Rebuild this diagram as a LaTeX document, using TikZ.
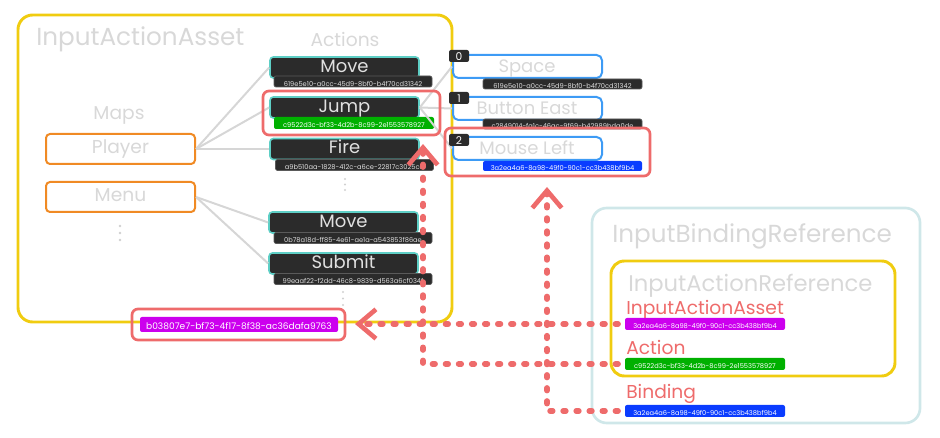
\documentclass[tikz,border=0pt]{standalone}
\usepackage{fontspec}
\setmainfont{Poppins}
\usetikzlibrary{arrows.meta}
\definecolor{lgray}{HTML}{D8D8D8}
\definecolor{linegray}{HTML}{D6D6D6}
\definecolor{dotgray}{HTML}{D0D0D0}
\definecolor{yel}{HTML}{F0CC10}
\definecolor{orange1}{HTML}{F08A24}
\definecolor{red1}{HTML}{EE6B6B}
\definecolor{dark}{HTML}{2B2B2B}
\definecolor{teal1}{HTML}{5ECFC6}
\definecolor{idtext}{HTML}{E0E0E0}
\definecolor{idborder}{HTML}{5A5A5A}
\definecolor{blue1}{HTML}{3D9BF5}
\definecolor{green1}{HTML}{00B000}
\definecolor{mag1}{HTML}{CC00EE}
\definecolor{blue2}{HTML}{0A3CFF}
\definecolor{lteal}{HTML}{CFE7E9}
\begin{document}
\begin{tikzpicture}[x=0.75pt,y=-0.75pt,
  title/.style={text=lgray, font=\fontsize{18.5}{20}\selectfont, inner sep=0, anchor=base west},
  sub/.style={text=lgray, font=\fontsize{14}{16}\selectfont, inner sep=0},
  mapbox/.style={draw=orange1, line width=1.5pt, rounded corners=3pt, fill=white, minimum width=111.75pt, minimum height=22.5pt, text=lgray, font=\fontsize{14}{16}\selectfont, inner sep=0, text height=0.72em, text depth=0pt},
  actbox/.style={draw=teal1, line width=1.2pt, fill=dark, rounded corners=2.5pt, minimum width=111.75pt, minimum height=15.75pt, inner sep=0, text=idtext, font=\fontsize{13.5}{14}\selectfont, text height=0.72em, text depth=0pt},
  idbox/.style={fill=dark, draw=idborder, line width=0.5pt, rounded corners=1.5pt, minimum width=118.5pt, minimum height=8.25pt, inner sep=0, text=idtext, font=\fontsize{5}{6}\selectfont, text height=0.7em, text depth=0pt},
  bindbox/.style={draw=blue1, line width=1.5pt, rounded corners=4pt, minimum width=111.75pt, minimum height=17.25pt, inner sep=0},
  badge/.style={fill=dark, rounded corners=1.5pt, minimum width=15pt, minimum height=9pt, inner sep=0, text=white, font=\fontsize{8}{9}\selectfont, text height=0.7em, text depth=0pt},
  bname/.style={text=lgray, font=\fontsize{13.5}{14}\selectfont, inner sep=0, text height=0.72em, text depth=0pt},
  hl/.style={draw=red1, line width=2pt, rounded corners=4.5pt, inner sep=0},
  reflabel/.style={text=red1, font=\fontsize{14}{16}\selectfont, inner sep=0, anchor=base west},
  refid/.style={minimum width=120pt, minimum height=9pt, rounded corners=1.5pt, inner sep=0, text=white, font=\fontsize{5}{6}\selectfont, text height=0.7em, text depth=0pt},
  link/.style={draw=linegray, line width=1.5pt},
  refline/.style={draw=red1, line width=4.2pt, line cap=round, dash pattern=on 2pt off 7.8pt},
  redtip/.style={-{Straight Barb[length=13pt,width=22pt,line width=3.5pt]}},
  vdot/.style={fill=dotgray}
]
\useasboundingbox (0,0) rectangle (940,438);

% ---------- InputActionAsset container
\draw[yel, line width=2.2pt, rounded corners=11pt] (18,15) rectangle (452,322);
\node[title] (tasset) at (36,46) {InputActionAsset};
\node[sub] (tactions) at (345,39) {Actions};
\node[sub] (tmaps) at (119,115) {Maps};

% maps
\node[mapbox] (player) at (120.5,149) {Player};
\node[mapbox] (menu) at (120.5,197) {Menu};
\foreach \yy in {226,233,240} \fill[vdot] (120,\yy) circle (1.3);

% actions
\node[actbox] (mv) at (344.5,67.5) {Move};
\node[actbox] (jp) at (344.5,107.5) {Jump};
\node[actbox] (fr) at (344.5,149) {Fire};
\node[actbox] (mv2) at (343.5,222.5) {Move};
\node[actbox] (sb) at (343.5,263.5) {Submit};

\draw[link] (player.east) -- (mv.west);
\draw[link] (player.east) -- (jp.west);
\draw[link] (player.east) -- (fr.west);
\draw[link] (menu.east) -- (mv2.west);
\draw[link] (menu.east) -- (sb.west);

\node[idbox] (mvid) at (353,81.5) {619e5e10-a0cc-45d9-8bf0-b4f70cd31342};
\node[idbox, fill=green1, draw=none, text=white, minimum width=120pt, minimum height=9pt] (jpid) at (354,123) {c9522d3c-bf33-4d2b-8c99-2e1553578927};
\node[idbox] (frid) at (354.5,165) {a9b510aa-1828-412c-a6ce-22817c3025cd};
\node[idbox] (mv2id) at (353,238) {0b78a18d-ff85-4e61-ae1a-a543853f86ae};
\node[idbox] (sbid) at (353,279) {99eaaf22-f2dd-46c8-9839-d563a6cf034f};
\foreach \yy in {179,184.5,190} \fill[vdot] (345,\yy) circle (1.2);
\foreach \yy in {292,298.5,305} \fill[vdot] (343,\yy) circle (1.2);

% bindings
\node[bindbox] (b0) at (527.5,66.5) {};
\node[bindbox] (b1) at (527.5,108.5) {};
\node[bindbox] (b2) at (527.5,148.5) {};
\draw[link] (jp.east) -- (b0.west);
\draw[link] (jp.east) -- (b1.west);
\draw[link] (jp.east) -- (b2.west);
\node[badge] (k0) at (459,56) {0};
\node[badge] (k1) at (459,98) {1};
\node[badge] (k2) at (459,140) {2};
\node[bname] (n0) at (527,68) {Space};
\node[bname] (n1) at (527,110) {Button East};
\node[bname] (n2) at (527,150) {Mouse Left};
\node[idbox, minimum width=119.25pt, minimum height=7.5pt] (b0id) at (562.5,84) {619e5e10-a0cc-45d9-8bf0-b4f70cd31342};
\node[idbox, minimum width=119.25pt, minimum height=7.5pt] (b1id) at (562.5,124) {c2849014-fa1c-46ac-9f69-b42989bda0de};
\node[idbox, fill=blue2, draw=none, text=white, minimum width=119.25pt, minimum height=7.5pt] (b2id) at (562.5,166) {3a2ea4a6-8a98-49f0-90c1-cc3b438bf9b4};

% highlights
\node[hl, minimum width=132.75pt, minimum height=33pt] (jphl) at (351.5,113) {};
\node[hl, minimum width=153.75pt, minimum height=36pt] (b2hl) at (547.5,152) {};

% asset id
\node[refid, fill=mag1, minimum width=148.5pt, minimum height=11.25pt, font=\fontsize{6.8}{8}\selectfont] (aid) at (239,324.5) {b03807e7-bf73-4f17-8f38-ac36dafa9763};
\node[hl, minimum width=159.75pt, minimum height=23.25pt] (aidhl) at (238.5,324.5) {};

% ---------- InputBindingReference
\draw[lteal, line width=2pt, rounded corners=11pt] (592,208) rectangle (920,423);
\node[title] (tbind) at (612,243) {InputBindingReference};
\draw[yel, line width=2.2pt, rounded corners=10pt] (611,261) rectangle (895,376);
\node[title, font=\fontsize{17}{18}\selectfont] (tactref) at (628,292) {InputActionReference};
\node[reflabel] (lasset) at (626,315) {InputActionAsset};
\node[refid, fill=mag1] (rasset) at (705,324) {3a2ea4a6-8a98-49f0-90c1-cc3b438bf9b4};
\node[reflabel] (laction) at (626,355) {Action};
\node[refid, fill=green1] (ract) at (705,364) {c9522d3c-bf33-4d2b-8c99-2e1553578927};
\node[reflabel] (lbind) at (626,399) {Binding};
\node[refid, fill=blue2] (rbind) at (705,411) {3a2ea4a6-8a98-49f0-90c1-cc3b438bf9b4};

% ---------- reference lines
\coordinate (atip) at (355,324);
\coordinate (jtip) at (423,144);
\coordinate (btip) at (547,187);
\draw[refline, redtip, shorten <=5pt] (rasset.west) -- (atip);
\draw[refline, redtip, shorten <=5pt] (ract.west) -| (jtip);
\draw[refline, redtip, shorten <=5pt] (rbind.west) -| (btip);
\end{tikzpicture}
\end{document}
